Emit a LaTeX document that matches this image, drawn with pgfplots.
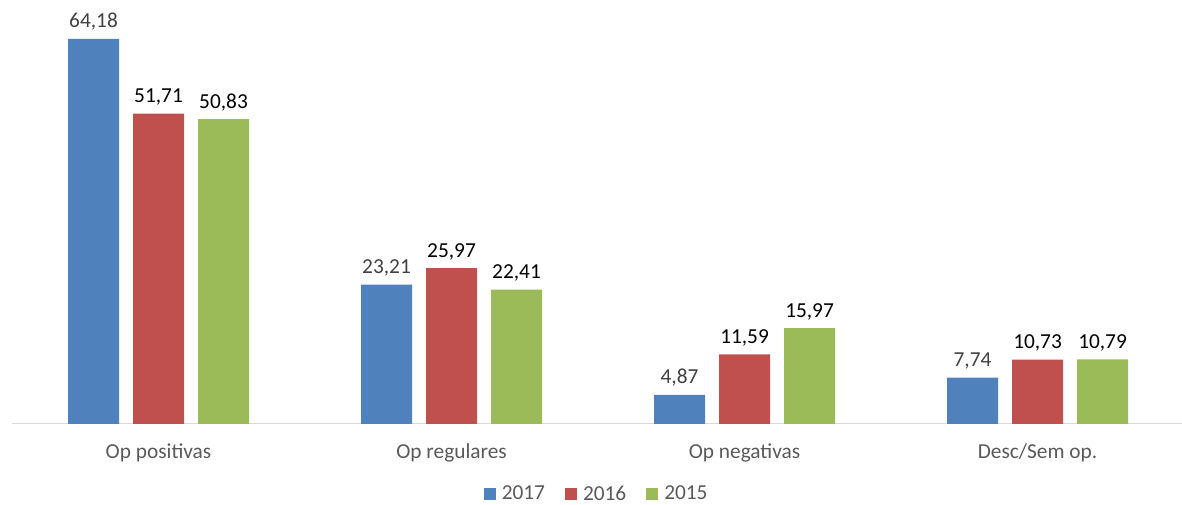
\documentclass[border=0pt]{standalone}
\usepackage{pgfplots}
\pgfplotsset{compat=1.18}
\usepackage{pgfplotstable}
\usepackage{fontspec}
\setmainfont{Carlito}
\definecolor{cBlue}{HTML}{4F81BD}
\definecolor{cRed}{HTML}{C0504D}
\definecolor{cGreen}{HTML}{9BBB59}
\definecolor{cTxt}{HTML}{595959}
\definecolor{cLab}{HTML}{404040}
\definecolor{cAx}{HTML}{D9D9D9}
\pgfplotstableread{
x y lab
0 64.18 64,18
1 23.21 23,21
2 4.87 4,87
3 7.74 7,74
}\dataA
\pgfplotstableread{
x y lab
0 51.71 51,71
1 25.97 25,97
2 11.59 11,59
3 10.73 10,73
}\dataB
\pgfplotstableread{
x y lab
0 50.83 50,83
1 22.41 22,41
2 15.97 15,97
3 10.79 10,79
}\dataC
\begin{document}
\begin{tikzpicture}
\begin{axis}[
  at={(9pt,60.75pt)}, anchor=south west,
  scale only axis,
  width=877.5pt, height=318pt,
  xmin=-0.5, xmax=3.493,
  ymin=0, ymax=70.67,
  enlargelimits=false,
  ybar=10.5pt, bar width=38.25pt,
  axis y line=none,
  axis x line*=bottom,
  axis line style={-, draw=cAx, line width=0.75pt},
  xtick=data,
  xticklabels={Op positivas, Op regulares, Op negativas, Desc/Sem op.},
  major tick length=0pt,
  xticklabel style={font=\fontsize{16}{19}\selectfont, text=cTxt, yshift=-11.5pt},
  point meta=explicit symbolic,
  nodes near coords,
  every node near coord/.append style={font=\fontsize{16}{19}\selectfont, anchor=south, inner sep=0pt, yshift=6pt},
  legend style={at={(0.5,0)}, anchor=center, yshift=-52.5pt, draw=none, fill=none,
    legend columns=3, font=\fontsize{16}{19}\selectfont, text=cTxt,
    /tikz/every even column/.append style={column sep=13pt}},
  legend image code/.code={\fill[#1,draw=none] (0pt,-4.5pt) rectangle (9pt,4.5pt); \path (11.5pt,0pt);},
]
\addplot[fill=cBlue, draw=none, every node near coord/.append style={text=cLab}] table[x=x,y=y,meta=lab] {\dataA};
\addplot[fill=cRed, draw=none, every node near coord/.append style={text=black}] table[x=x,y=y,meta=lab] {\dataB};
\addplot[fill=cGreen, draw=none, every node near coord/.append style={text=black}] table[x=x,y=y,meta=lab] {\dataC};
\legend{2017,2016,2015}
\end{axis}
\pgfresetboundingbox
\path[use as bounding box] (0,0) rectangle (886.5pt,378.75pt);
\end{tikzpicture}
\end{document}
